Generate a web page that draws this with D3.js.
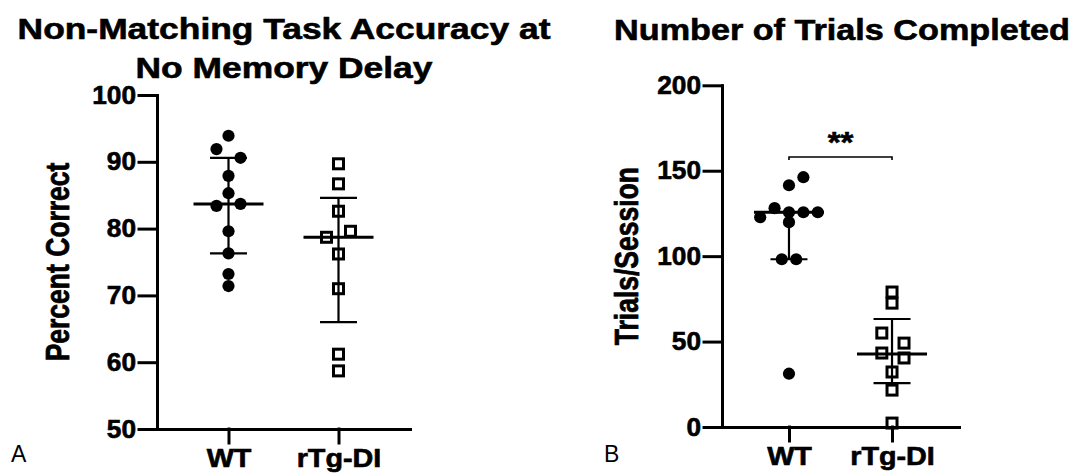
<!DOCTYPE html>
<html>
<head>
<meta charset="utf-8">
<script src="https://cdn.jsdelivr.net/npm/d3@7"></script>
<style>
  body { margin: 0; background: #fff; }
  text { font-family: "Liberation Sans", Arial, Helvetica, sans-serif; fill: #000; }
  text.heavy { stroke: #000; stroke-width: 0.6px; }
</style>
</head>
<body>
<div class="canvas"></div>
<script>
// groups on the x axis
const groups = ["WT", "rTg-DI"];

// panel A - percent correct at no memory delay
const accWT = [93.9, 91.9, 90.6, 87.9, 85.3, 83.4, 83.7, 79.6, 76.3, 73.2, 71.4];
const accWTLane = [0, -1, 1, 0, 0, -1, 1, 0, 0, 0, 0];
const accTg = [89.7, 86.7, 82.6, 79.6, 78.7, 76.2, 71.0, 61.2, 58.7];
const accTgLane = [0, 0, 0, 1, -1, 0, 0, 0, 0];
const accMedian = [83.7, 78.7];
const accUpper = [90.6, 84.6];
const accLower = [76.3, 66.0];
const accTicks = [50, 60, 70, 80, 90, 100];

// panel B - trials per session
const trialsWT = [146.2, 141.5, 128.1, 122.8, 125.7, 125.7, 125.7, 119.9, 98.2, 98.2, 31.2];
const trialsWTLane = [1.2, 0, -1.2, -2.4, 0, 1.2, 2.4, 0, -0.6, 0.6, 0];
const trialsTg = [79.0, 72.5, 55.0, 49.1, 43.3, 40.4, 32.2, 21.6, 2.3];
const trialsTgLane = [0, 0, -0.85, 1, -0.85, 1, 0, 0, 0];
const trialsMedian = [125.7, 42.7];
const trialsUpper = [125.7, 63.2];
const trialsLower = [98.2, 25.7];
const trialsTicks = [0, 50, 100, 150, 200];
const sigLabel = "**";
const sigLevel = 158;

const svg = d3.select(".canvas").append("svg")
    .attr("width", 1074)
    .attr("height", 474);

const laneW = 12;

//text with the slightly wide lettering of the original figure
function stretchedText(parent, x, y, str, size, sx, anchor, rotate) {
  return parent.append("text")
    .attr("class", "heavy")
    .attr("transform", `translate(${x},${y}) scale(${sx},1)` + (rotate ? ` rotate(${rotate})` : ""))
    .attr("text-anchor", anchor)
    .style("font-size", size + "px")
    .style("font-weight", "bold")
    .text(str);
}

function drawPanel(p) {
  const g = svg.append("g");

  const x = d3.scalePoint().domain(groups).range([p.left, p.right]).padding(0.65);
  const y = d3.scaleLinear().domain(p.domain).range([p.bottom, p.top]);

  //axes
  const yAxisGroup = g.append("g")
    .attr("transform", `translate(${p.left},0)`)
    .call(d3.axisLeft(y).tickValues(p.ticks).tickSize(18).tickPadding(3).tickSizeOuter(0));
  const xAxisGroup = g.append("g")
    .attr("transform", `translate(0,${p.bottom})`)
    .call(d3.axisBottom(x).tickSize(14).tickPadding(6).tickSizeOuter(0));

  g.selectAll(".domain, .tick line")
    .attr("stroke", "#000")
    .attr("stroke-width", 3)
    .attr("stroke-linecap", "square");

  yAxisGroup.selectAll(".tick text")
    .attr("class", "heavy")
    .attr("x", -21 / 1.05)
    .attr("transform", "scale(1.05,1)")
    .style("font-size", "25px")
    .style("font-weight", "bold")
    .attr("font-family", null);
  xAxisGroup.selectAll(".tick text")
    .attr("class", "heavy")
    .attr("transform", "scale(1.15,1)")
    .style("font-size", "25px")
    .style("font-weight", "bold")
    .attr("font-family", null);

  //points
  const wt = p.values[0].map((v, i) => ({v, lane: p.lanes[0][i]}));
  const tg = p.values[1].map((v, i) => ({v, lane: p.lanes[1][i]}));

  g.selectAll("circle.pt")
    .data(wt)
    .enter()
    .append("circle")
    .attr("class", "pt")
    .attr("cx", d => x(groups[0]) + d.lane * laneW)
    .attr("cy", d => y(d.v))
    .attr("r", 6.1)
    .style("fill", "black");

  const sq = 10;
  g.selectAll("rect.pt")
    .data(tg)
    .enter()
    .append("rect")
    .attr("class", "pt")
    .attr("x", d => x(groups[1]) + d.lane * laneW - sq / 2)
    .attr("y", d => y(d.v) - sq / 2)
    .attr("width", sq)
    .attr("height", sq)
    .style("fill", "none")
    .style("stroke", "black")
    .style("stroke-width", 3);

  //median + interquartile bars
  groups.forEach((grp, i) => {
    const cx = x(grp);
    g.append("line")
      .attr("x1", cx).attr("x2", cx)
      .attr("y1", y(p.upper[i])).attr("y2", y(p.lower[i]))
      .attr("stroke", "#000").attr("stroke-width", 2.2);
    [p.upper[i], p.lower[i]].forEach(v => {
      g.append("line")
        .attr("x1", cx - 18.5).attr("x2", cx + 18.5)
        .attr("y1", y(v)).attr("y2", y(v))
        .attr("stroke", "#000").attr("stroke-width", 2.2);
    });
    g.append("line")
      .attr("x1", cx - 35).attr("x2", cx + 35)
      .attr("y1", y(p.median[i])).attr("y2", y(p.median[i]))
      .attr("stroke", "#000").attr("stroke-width", 3);
  });

  //significance bracket
  if (p.sig) {
    const sy = y(p.sig.level);
    g.append("path")
      .attr("d", `M${x(groups[0])},${sy + 3}V${sy}H${x(groups[1])}V${sy + 3}`)
      .attr("fill", "none")
      .attr("stroke", "#000")
      .attr("stroke-width", 1.6);
    stretchedText(g, (x(groups[0]) + x(groups[1])) / 2, sy - 5, p.sig.label, 30, 1.1, "middle");
  }

  //y axis title
  stretchedText(g, p.left - p.labelGap, (p.top + p.bottom) / 2, p.yLabel, 26.5, 1.25, "middle", -90);

  //panel letter
  svg.append("text")
    .attr("x", p.letterX)
    .attr("y", 462)
    .style("font-size", "23px")
    .text(p.letter);

  //title
  p.title.forEach((line, i) => {
    stretchedText(svg, p.titleX, p.titleY + i * 38.5, line, 30, p.titleSX, "middle");
  });
}

drawPanel({
  left: 157, right: 410, top: 95, bottom: 429,
  domain: [50, 100], ticks: accTicks,
  values: [accWT, accTg], lanes: [accWTLane, accTgLane],
  median: accMedian, upper: accUpper, lower: accLower,
  yLabel: "Percent Correct", labelGap: 88,
  letter: "A", letterX: 11,
  title: ["Non-Matching Task Accuracy at", "No Memory Delay"], titleX: 284, titleY: 39, titleSX: 1.18
});

drawPanel({
  left: 722, right: 959, top: 85.3, bottom: 427,
  domain: [0, 200], ticks: trialsTicks,
  values: [trialsWT, trialsTg], lanes: [trialsWTLane, trialsTgLane],
  median: trialsMedian, upper: trialsUpper, lower: trialsLower,
  sig: {label: sigLabel, level: sigLevel},
  yLabel: "Trials/Session", labelGap: 84,
  letter: "B", letterX: 604,
  title: ["Number of Trials Completed"], titleX: 842, titleY: 40, titleSX: 1.14
});
</script>
</body>
</html>
